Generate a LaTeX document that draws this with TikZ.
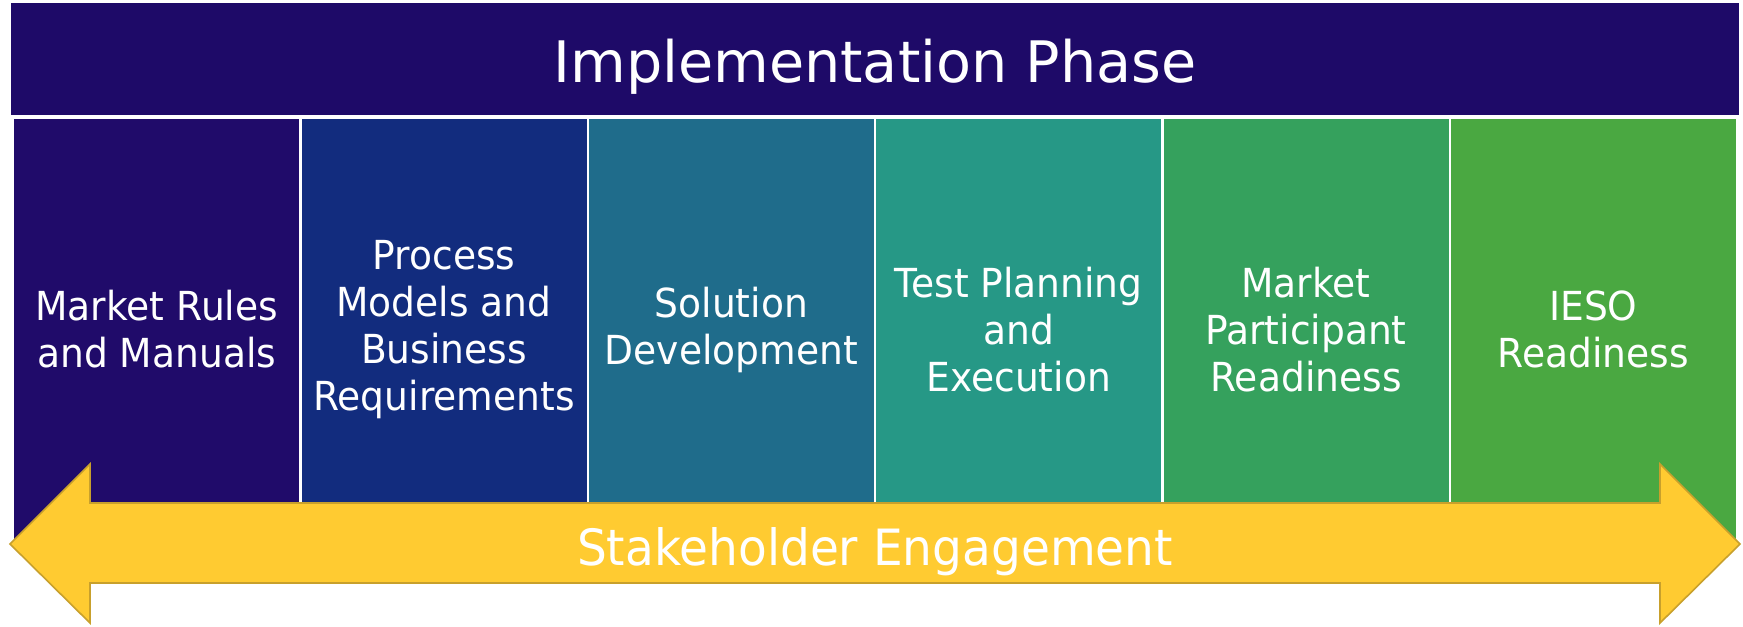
\documentclass[tikz,border=0pt]{standalone}
\usepackage{fontspec}
\setmainfont{DejaVu Sans}[FakeStretch=0.94]
\newfontfamily\titlefont{DejaVu Sans}
\newfontfamily\arrfont{DejaVu Sans}[FakeStretch=0.94]
\definecolor{hdr}{HTML}{1E0A68}
\definecolor{cA}{HTML}{200B6A}
\definecolor{cB}{HTML}{122C7E}
\definecolor{cC}{HTML}{1F6C8B}
\definecolor{cD}{HTML}{269886}
\definecolor{cE}{HTML}{35A15D}
\definecolor{cF}{HTML}{4AA841}
\definecolor{arrfill}{HTML}{FFCB31}
\definecolor{arrline}{HTML}{C8A02C}
\tikzset{
  header/.style={fill=hdr, minimum width=864pt, minimum height=56pt, inner sep=0pt},
  titletext/.style={text=white, inner sep=0pt, anchor=base, font=\titlefont\fontsize{28.6pt}{34pt}\selectfont},
  colbox/.style={minimum width=142.5pt, minimum height=210.5pt, inner sep=0pt, text=white, align=center, font=\fontsize{20pt}{23.5pt}\selectfont},
  arrtext/.style={text=white, inner sep=0pt, anchor=base, font=\arrfont\fontsize{25pt}{30pt}\selectfont},
  bigarrow/.style={fill=arrfill, draw=arrline, line width=0.8pt, line join=miter}
}
\begin{document}
\begin{tikzpicture}[x=0.5pt,y=-0.5pt]
\useasboundingbox (0,0) rectangle (1743,626);
\fill[white] (0,0) rectangle (1743,626);
\node[header] (hbox) at (875,59) {};
\node[titletext] (title) at (875,83) {Implementation Phase};
\node[colbox, fill=cA] (c1) at (156.67,329.5) {Market Rules\\and Manuals};
\node[colbox, fill=cB] (c2) at (444,329.5) {Process\\Models and\\Business\\Requirements};
\node[colbox, fill=cC] (c3) at (731.33,329.5) {Solution\\Development};
\node[colbox, fill=cD] (c4) at (1018.67,329.5) {Test Planning\\and\\Execution};
\node[colbox, fill=cE] (c5) at (1306,329.5) {Market\\Participant\\Readiness};
\node[colbox, fill=cF] (c6) at (1593.33,329.5) {IESO\\Readiness};
\path[bigarrow] (10,544) -- (90,464) -- (90,503) -- (1660,503) -- (1660,464) -- (1740,544) -- (1660,623) -- (1660,583) -- (90,583) -- (90,623) -- cycle;
\node[arrtext] (se) at (875,565) {Stakeholder Engagement};
\end{tikzpicture}
\end{document}
